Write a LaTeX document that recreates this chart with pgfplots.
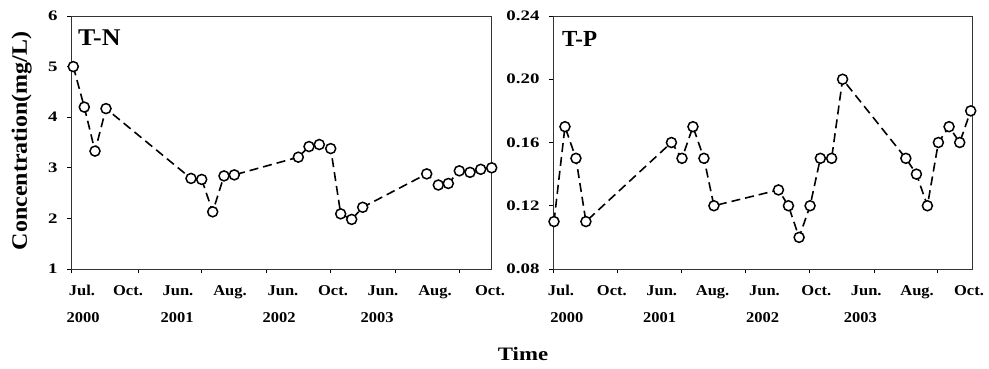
\documentclass[border=0pt]{standalone}
\usepackage{fontspec}
\setmainfont{Liberation Serif}
\newfontfamily\tickfont[FakeStretch=1.3]{Liberation Serif}
\newfontfamily\datefont[FakeStretch=1.1]{Liberation Serif}
\newfontfamily\timefont[FakeStretch=1.2]{Liberation Serif}
\newfontfamily\ylabfont[FakeStretch=1.09]{Liberation Serif}
\newfontfamily\titlefont[FakeStretch=1.08]{Liberation Serif}
\usepackage{pgfplots}
\pgfplotsset{compat=1.18}
\pgfplotsset{
  panel/.style={scale only axis, height=253pt, anchor=south west,
    xmin=0, xmax=420, clip=false,
    tick align=outside, tick pos=left, major tick length=4pt,
    xticklabels={},
    axis line style={black!80, line width=0.9pt},
    every tick/.style={black, line width=0.9pt},
    yticklabel style={font=\tickfont\bfseries\fontsize{14.5}{14.5}\selectfont, xshift=-6pt},
    /pgf/number format/assume math mode=true},
  series/.style={black, line width=1.6pt, dash pattern=on 9pt off 5pt,
    mark=*, mark size=5pt, mark options={solid, fill=white, draw=black, line width=1.5pt}},
}
\tikzset{datelab/.style={anchor=base, inner sep=0pt, font=\datefont\bfseries\fontsize{15}{15}\selectfont}}
\newcommand\mlab[3]{\node[datelab] at ([yshift=-26pt]axis cs:#1,#2) {#3};}
\newcommand\ylab[3]{\node[datelab] at ([yshift=-53pt]axis cs:#1,#2) {#3};}
\pgfplotstableread{
x y
2.3 5.00
13.3 4.20
24 3.33
35 4.17
120 2.79
130.7 2.77
141.7 2.13
153 2.84
163.3 2.86
227.3 3.21
238 3.42
248.3 3.46
259.7 3.38
269.7 2.09
280.7 1.98
291.7 2.22
355.7 2.88
367.3 2.66
377.3 2.69
388.3 2.94
399 2.91
409.7 2.97
420.7 3.00
}\tntable
\pgfplotstableread{
x y
1 0.11
12 0.17
23 0.15
33 0.11
118.7 0.16
129.3 0.15
140.3 0.17
151.3 0.15
161.3 0.12
226 0.13
236 0.12
246.7 0.10
257.7 0.12
268 0.15
279.3 0.15
290.3 0.20
353.7 0.15
364.3 0.14
375.3 0.12
386.3 0.16
397 0.17
407.7 0.16
418.7 0.18
}\tptable
\begin{document}
\begin{tikzpicture}
\begin{axis}[panel, at={(71pt,99pt)}, width=420pt,
  ymin=1, ymax=6, ytick={1,2,3,4,5,6},
  xtick={0,67,130,195,259,324,388}]
\addplot[series] table[x=x,y=y] {\tntable};
\mlab{11}{1}{Jul.}\mlab{57}{1}{Oct.}\mlab{107}{1}{Jun.}\mlab{159}{1}{Aug.}
\mlab{212}{1}{Jun.}\mlab{262}{1}{Oct.}\mlab{312}{1}{Jun.}\mlab{364}{1}{Aug.}\mlab{419}{1}{Oct.}
\ylab{12}{1}{2000}\ylab{106}{1}{2001}\ylab{208}{1}{2002}\ylab{306}{1}{2003}
\end{axis}
\begin{axis}[panel, at={(553pt,99pt)}, width=419pt,
  ymin=0.08, ymax=0.24, ytick={0.08,0.12,0.16,0.20,0.24},
  yticklabel style={/pgf/number format/.cd, fixed, fixed zerofill, precision=2},
  xtick={0,65,129,193,257,322,385}]
\addplot[series] table[x=x,y=y] {\tptable};
\mlab{8}{0.08}{Jul.}\mlab{59}{0.08}{Oct.}\mlab{109}{0.08}{Jun.}\mlab{160}{0.08}{Aug.}
\mlab{212}{0.08}{Jun.}\mlab{264}{0.08}{Oct.}\mlab{314}{0.08}{Jun.}\mlab{365}{0.08}{Aug.}\mlab{417}{0.08}{Oct.}
\ylab{14}{0.08}{2000}\ylab{107}{0.08}{2001}\ylab{210}{0.08}{2002}\ylab{308}{0.08}{2003}
\end{axis}
\node[anchor=base west, inner sep=0pt, font=\titlefont\bfseries\fontsize{24}{24}\selectfont] at (78pt,323pt) {T-N};
\node[anchor=base west, inner sep=0pt, font=\bfseries\fontsize{23}{23}\selectfont] at (562pt,322pt) {T-P};
\node[anchor=base, inner sep=0pt, font=\timefont\bfseries\fontsize{19}{19}\selectfont] at (523pt,8pt) {Time};
\node[anchor=base, rotate=90, inner sep=0pt, font=\ylabfont\bfseries\fontsize{22}{22}\selectfont] at (27pt,227pt) {Concentration(mg/L)};
\pgfresetboundingbox
\useasboundingbox (0,0) rectangle (989pt,368pt);
\end{tikzpicture}
\end{document}
